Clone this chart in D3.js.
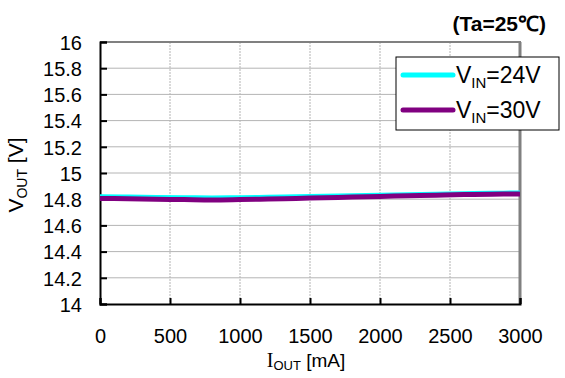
<!DOCTYPE html>
<html><head><meta charset="utf-8">
<script src="https://cdn.jsdelivr.net/npm/d3@7"></script>
<style>body{margin:0;background:#fff}svg{display:block}</style>
</head><body>
<svg id="c" width="565" height="378"></svg>
<script>
const iout = [0,200,400,600,800,1000,1200,1400,1600,1800,2000,2200,2400,2600,2800,3000];
const vin24 = [14.823,14.821,14.817,14.815,14.813,14.815,14.818,14.822,14.826,14.830,14.834,14.838,14.842,14.846,14.849,14.851];
const vin30 = [14.806,14.803,14.800,14.797,14.794,14.797,14.801,14.806,14.811,14.816,14.821,14.826,14.831,14.835,14.838,14.840];
const xTicks = [0,500,1000,1500,2000,2500,3000];
const yTicks = [14,14.2,14.4,14.6,14.8,15,15.2,15.4,15.6,15.8,16];
const seriesNames = ["24V","30V"];

const svg = d3.select("#c");
const L=100,R=520,T=42,B=304;
const x = d3.scaleLinear().domain([0,3000]).range([L,R]);
const y = d3.scaleLinear().domain([14,16]).range([B,T]);
const sans = "'Liberation Sans', Arial, sans-serif";

// grid
svg.append("g").selectAll("line").data(yTicks.slice(1,-1)).join("line")
  .attr("x1",L).attr("x2",R).attr("y1",d=>y(d)).attr("y2",d=>y(d))
  .attr("stroke","#b4b4b4").attr("stroke-width",1);
svg.append("g").selectAll("line").data(xTicks.slice(1,-1)).join("line")
  .attr("x1",d=>x(d)).attr("x2",d=>x(d)).attr("y1",T).attr("y2",B)
  .attr("stroke","#b4b4b4").attr("stroke-width",1).attr("stroke-dasharray","2,1");

// top & right borders
svg.append("line").attr("x1",L).attr("x2",R+1).attr("y1",T).attr("y2",T).attr("stroke","#808080").attr("stroke-width",2);
svg.append("line").attr("x1",R).attr("x2",R).attr("y1",T).attr("y2",B).attr("stroke","#808080").attr("stroke-width",3);

// axes
const yAxis = d3.axisLeft(y).tickValues(yTicks).tickSize(-7).tickFormat(d=>d3.format("")(+d.toFixed(1)));
const gy = svg.append("g").attr("transform",`translate(${L},0)`).call(yAxis);
gy.select(".domain").attr("stroke","#000").attr("stroke-width",2);
gy.selectAll(".tick line").attr("stroke","#000").attr("stroke-width",2);
gy.selectAll("text").attr("font-family",sans).attr("font-size",20).attr("fill","#000").attr("dy","0.36em").attr("x",-18);

const xAxis = d3.axisBottom(x).tickValues(xTicks).tickSize(-6).tickFormat(d3.format("d"));
const gx = svg.append("g").attr("transform",`translate(0,${B})`).call(xAxis);
gx.select(".domain").attr("stroke","#000").attr("stroke-width",2);
gx.selectAll(".tick line").attr("stroke","#000").attr("stroke-width",2);
gx.selectAll("text").attr("font-family",sans).attr("font-size",20).attr("fill","#000").attr("dy",0).attr("y",39);

// lines
const line = d3.line().x((d,i)=>x(iout[i])).y(d=>y(d)).curve(d3.curveMonotoneX);
svg.append("path").datum(vin24).attr("d",line).attr("fill","none").attr("stroke","#00ffff").attr("stroke-width",4);
svg.append("path").datum(vin30).attr("d",line).attr("fill","none").attr("stroke","#800080").attr("stroke-width",5);

// legend
const lg = svg.append("g");
lg.append("rect").attr("x",396).attr("y",57).attr("width",163).attr("height",73).attr("fill","#fff").attr("stroke","#000").attr("stroke-width",1);
const colors=["#00ffff","#800080"];
seriesNames.forEach((n,i)=>{
  const yy = 75 + i*35;
  lg.append("line").attr("x1",403).attr("x2",453).attr("y1",yy).attr("y2",yy).attr("stroke",colors[i]).attr("stroke-width",5).attr("stroke-linecap","round");
  const t = lg.append("text").attr("x",456).attr("y",yy+8).attr("font-family",sans).attr("font-size",23).attr("fill","#000");
  t.append("tspan").text("V");
  t.append("tspan").attr("font-size",15).attr("dy",5).text("IN");
  t.append("tspan").attr("dy",-5).text("="+n);
});

// title
svg.append("text").attr("x",546).attr("y",31).attr("text-anchor","end").attr("font-family",sans).attr("font-weight","bold").attr("font-size",21).text("(Ta=25℃)");

// axis titles
const xt = svg.append("text").attr("x",306).attr("y",367).attr("text-anchor","middle").attr("font-family","'Liberation Serif', serif").attr("font-size",20).attr("fill","#000");
xt.append("tspan").text("I");
xt.append("tspan").attr("font-family",sans).attr("font-size",13).attr("dy",3).text("OUT");
xt.append("tspan").attr("dy",-3).attr("font-family",sans).attr("font-size",19).text(" [mA]");

const yt = svg.append("text").attr("transform","translate(23,175) rotate(-90)").attr("text-anchor","middle").attr("font-family",sans).attr("font-size",21).attr("fill","#000");
yt.append("tspan").text("V");
yt.append("tspan").attr("font-size",14).attr("dy",4).text("OUT");
yt.append("tspan").attr("dy",-4).text(" [V]");
</script>
</body></html>
